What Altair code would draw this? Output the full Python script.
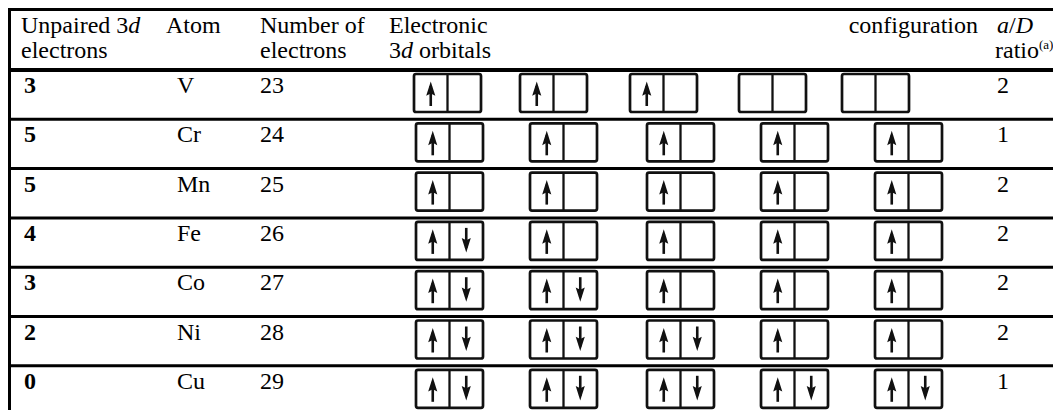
import altair as alt
import pandas as pd

# ---------------- data ----------------
unpaired = [3, 5, 5, 4, 3, 2, 0]
atoms = ["V", "Cr", "Mn", "Fe", "Co", "Ni", "Cu"]
n_electrons = [23, 24, 25, 26, 27, 28, 29]
ad_ratio = [2, 1, 2, 2, 2, 2, 1]
# electrons in each of the five 3d orbitals (0 empty, 1 up, 2 up+down)
orbital_fill = [
    [1, 1, 1, 0, 0],
    [1, 1, 1, 1, 1],
    [1, 1, 1, 1, 1],
    [2, 1, 1, 1, 1],
    [2, 2, 1, 1, 1],
    [2, 2, 2, 1, 1],
    [2, 2, 2, 2, 2],
]

# ---------------- layout (chart pixel space) ----------------
W, H = 1045, 402
FONT = "Liberation Serif"
FS = 24
HEAD_LINE = 62
ROW_H = 49.3
BOX_W, BOX_H, BOX_TOP = 67, 38, 4
box_left_default = [408, 522, 639, 753, 867]
box_left_rows = {0: [406, 512, 622, 731, 834]}
COL_X = {"unp": 16, "atom": 169, "num": 252, "ratio": 989}

X = lambda f: alt.X(f"{f}:Q", scale=alt.Scale(domain=[0, W], nice=False, zero=False), axis=None)
Y = lambda f: alt.Y(f"{f}:Q", scale=alt.Scale(domain=[0, H], reverse=True, nice=False, zero=False), axis=None)

# ---------------- table lines ----------------
lines = [dict(x=0, x2=W, y=1.5, y2=1.5, w=3),
         dict(x=1.5, x2=1.5, y=0, y2=H, w=3),
         dict(x=0, x2=W, y=HEAD_LINE, y2=HEAD_LINE, w=4)]
for i in range(1, len(atoms)):
    yy = HEAD_LINE + i * ROW_H
    lines.append(dict(x=0, x2=W, y=yy, y2=yy, w=3))
lines_df = pd.DataFrame(lines)
rules = alt.Chart(lines_df).mark_rule(color="black").encode(
    x=X("x"), x2="x2", y=Y("y"), y2="y2",
    strokeWidth=alt.StrokeWidth("w:Q", scale=None))

# ---------------- boxes & arrows ----------------
boxes, dividers, shafts, heads_up, heads_dn = [], [], [], [], []
for r, fills in enumerate(orbital_fill):
    lefts = box_left_rows.get(r, box_left_default)
    top = HEAD_LINE + r * ROW_H + BOX_TOP
    for k, n in enumerate(fills):
        L = lefts[k]
        boxes.append(dict(x=L, x2=L + BOX_W, y=top, y2=top + BOX_H))
        dividers.append(dict(x=L + BOX_W / 2, y=top, y2=top + BOX_H))
        if n >= 1:
            cx = L + BOX_W / 4
            shafts.append(dict(x=cx, y=top + 12, y2=top + 32))
            heads_up.append(dict(x=cx, y=top + 15))
        if n >= 2:
            cx = L + 3 * BOX_W / 4
            shafts.append(dict(x=cx, y=top + 6, y2=top + 26))
            heads_dn.append(dict(x=cx, y=top + 23))

box_layer = alt.Chart(pd.DataFrame(boxes)).mark_rect(
    fill="white", stroke="#111", strokeWidth=2.7, cornerRadius=2).encode(
    x=X("x"), x2="x2", y=Y("y"), y2="y2")
div_layer = alt.Chart(pd.DataFrame(dividers)).mark_rule(color="#111", strokeWidth=2.3).encode(
    x=X("x"), y=Y("y"), y2="y2")
shaft_layer = alt.Chart(pd.DataFrame(shafts)).mark_rule(color="#111", strokeWidth=2.6).encode(
    x=X("x"), y=Y("y"), y2="y2")
UP = "M0,-1L0.6,0.9L0,0.6L-0.6,0.9Z"
DN = "M0,1L0.6,-0.9L0,-0.6L-0.6,-0.9Z"
up_layer = alt.Chart(pd.DataFrame(heads_up)).mark_point(
    shape=UP, filled=True, color="#111", size=230, opacity=1).encode(x=X("x"), y=Y("y"))
dn_layer = alt.Chart(pd.DataFrame(heads_dn)).mark_point(
    shape=DN, filled=True, color="#111", size=230, opacity=1).encode(x=X("x"), y=Y("y"))

# ---------------- texts ----------------
B1, B2 = 25, 50
EX = 381  # "Electronic" column start
header_reg = [
    dict(x=13, y=B1, text="Unpaired 3"), dict(x=13, y=B2, text="electrons"),
    dict(x=158, y=B1, text="Atom"),
    dict(x=252, y=B1, text="Number of"), dict(x=252, y=B2, text="electrons"),
    dict(x=EX, y=B1, text="Electronic"), dict(x=EX, y=B2, text="3"),
    dict(x=EX + 30, y=B2, text="orbitals"),
    dict(x=COL_X["ratio"] + 12, y=B1, text="/"),
    dict(x=COL_X["ratio"] - 2, y=B2, text="ratio"),
]
header_it = [
    dict(x=13 + 107.3, y=B1, text="d"),
    dict(x=EX + 12, y=B2, text="d"),
    dict(x=COL_X["ratio"], y=B1, text="a"),
    dict(x=COL_X["ratio"] + 18.7, y=B1, text="D"),
]
header_right = [dict(x=970, y=B1, text="configuration")]
header_sup = [dict(x=COL_X["ratio"] - 2 + 44, y=B2 - 9, text="(a)")]

bold_rows, reg_rows = [], []
for r in range(len(atoms)):
    base = HEAD_LINE + r * ROW_H + 23
    bold_rows.append(dict(x=COL_X["unp"], y=base, text=str(unpaired[r])))
    reg_rows.append(dict(x=COL_X["atom"], y=base, text=atoms[r]))
    reg_rows.append(dict(x=COL_X["num"], y=base, text=str(n_electrons[r])))
    reg_rows.append(dict(x=COL_X["ratio"], y=base, text=str(ad_ratio[r])))


def tx(rows, **kw):
    opts = dict(align="left", baseline="alphabetic", font=FONT, fontSize=FS, color="black")
    opts.update(kw)
    return alt.Chart(pd.DataFrame(rows)).mark_text(**opts).encode(
        x=X("x"), y=Y("y"), text="text:N")


texts = [
    tx(header_reg + reg_rows),
    tx(header_it, fontStyle="italic"),
    tx(header_right, align="right"),
    tx(header_sup, fontSize=13),
    tx(bold_rows, fontWeight="bold"),
]

chart = alt.layer(rules, box_layer, div_layer, shaft_layer, up_layer, dn_layer, *texts).properties(
    width=W, height=H, padding=0, autosize="none", background="white"
).configure_view(stroke=None)

chart.save("out.html", embed_options={"renderer": "svg", "actions": False})
